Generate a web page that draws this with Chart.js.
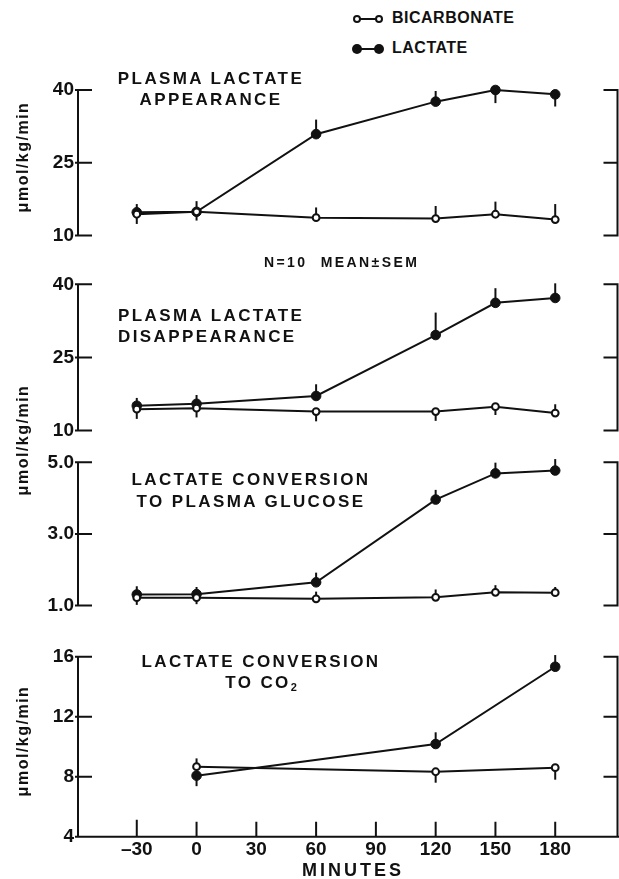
<!DOCTYPE html>
<html>
<head>
<meta charset="utf-8">
<script src="https://cdn.jsdelivr.net/npm/chart.js@4.4.1/dist/chart.umd.min.js"></script>
<style>
    body { margin: 0; background: #fff; }
    #page { position: relative; width: 619px; height: 879px; overflow: hidden; background: #fff;
        font-family: "Liberation Sans", Arial, sans-serif; font-weight: bold; color: #111; }
    #page canvas { position: absolute; left: 0; }
    .txt { position: absolute; white-space: nowrap; }
    .ttl { font-size: 17px; letter-spacing: 2.4px; line-height: 21px; }
    .ylab { position: absolute; font-size: 16px; letter-spacing: 1.5px; transform: translate(-50%, -50%) rotate(-90deg); white-space: nowrap; }
    .leg { position: absolute; left: 352px; width: 32px; height: 10px; }
    .leg .ln { position: absolute; left: 4px; right: 4px; top: 4px; height: 2px; background: #111; }
    .leg .dot { position: absolute; top: 0; width: 10px; height: 10px; border-radius: 50%; box-sizing: border-box; }
</style>
</head>
<body>
<div id="page">
    <!-- legend -->
    <div class="leg" style="top:14px">
        <div class="ln"></div>
        <div class="dot" style="left:1px;top:1px;width:8px;height:8px;border:2px solid #111;background:#fff"></div>
        <div class="dot" style="right:1px;top:1px;width:8px;height:8px;border:2px solid #111;background:#fff"></div>
    </div>
    <div class="txt" style="left:392px;top:9px;font-size:16px;letter-spacing:0.5px">BICARBONATE</div>
    <div class="leg" style="top:44px">
        <div class="ln"></div>
        <div class="dot" style="left:0;background:#111"></div>
        <div class="dot" style="right:0;background:#111"></div>
    </div>
    <div class="txt" style="left:392px;top:39px;font-size:16px;letter-spacing:0.5px">LACTATE</div>

    <canvas id="chart_1" width="619" height="190" style="top:60px"></canvas>
    <canvas id="chart_2" width="619" height="185" style="top:260px"></canvas>
    <canvas id="chart_3" width="619" height="175" style="top:445px"></canvas>
    <canvas id="chart_4" width="619" height="249" style="top:630px"></canvas>

    <!-- panel titles -->
    <div class="txt ttl" style="left:110px;top:68px;width:202px;text-align:center">PLASMA LACTATE<br>APPEARANCE</div>
    <div class="txt ttl" style="left:118px;top:305px">PLASMA LACTATE<br>DISAPPEARANCE</div>
    <div class="txt ttl" style="left:120px;top:469px;width:262px;text-align:center;line-height:22px">LACTATE CONVERSION<br>TO PLASMA GLUCOSE</div>
    <div class="txt ttl" style="left:130px;top:651px;width:262px;text-align:center">LACTATE CONVERSION<br>TO CO<sub style="font-size:11px;vertical-align:-3px;letter-spacing:0">2</sub></div>

    <div class="txt" style="left:264px;top:254px;font-size:14px;letter-spacing:2.4px;word-spacing:7px">N=10 MEAN±SEM</div>

    <div class="ylab" style="left:23px;top:157px">μmol/kg/min</div>
    <div class="ylab" style="left:23px;top:440px">μmol/kg/min</div>
    <div class="ylab" style="left:23px;top:741px">μmol/kg/min</div>

    <div class="txt" style="left:302px;top:860px;font-size:18px;letter-spacing:3px;line-height:20px">MINUTES</div>
</div>
<script>
// time points (minutes)
var minutes = [-30, 0, 60, 120, 150, 180]
var co2Minutes = [0, 120, 180]
var xTickValues = [-30, 0, 30, 60, 90, 120, 150, 180]

// plasma lactate appearance
var appearTicks = [10, 25, 40]
var appearLactate = [14.8, 14.9, 30.9, 37.6, 40.0, 39.1]
var appearLactateSem = [1.7, 2.2, 3.0, 2.2, -2.7, -2.5]
var appearBicarb = [14.4, 14.9, 13.7, 13.5, 14.4, 13.3]
var appearBicarbSem = [-2.0, -1.8, 2.1, 2.6, 2.6, 3.2]

// plasma lactate disappearance
var disTicks = [10, 25, 40]
var disLactate = [15.1, 15.5, 17.1, 29.6, 36.2, 37.2]
var disLactateSem = [1.6, 1.8, 2.4, 4.6, 3.0, 3.0]
var disBicarb = [14.4, 14.6, 13.9, 13.9, 14.9, 13.6]
var disBicarbSem = [-2.0, -1.9, -2.0, -1.9, -1.7, 1.8]

// lactate conversion to plasma glucose
var glucTicks = [1.0, 3.0, 5.0]
var glucLactate = [1.31, 1.32, 1.65, 3.96, 4.69, 4.77]
var glucLactateSem = [0.23, 0.2, 0.27, 0.27, 0.3, 0.32]
var glucBicarb = [1.22, 1.22, 1.19, 1.23, 1.37, 1.36]
var glucBicarbSem = [-0.2, -0.18, 0.2, 0.22, 0.2, 0.16]

// lactate conversion to CO2
var co2Ticks = [4, 8, 12, 16]
var co2Lactate = [8.07, 10.18, 15.33]
var co2LactateSem = [-0.7, 0.78, 0.78]
var co2Bicarb = [8.67, 8.33, 8.6]
var co2BicarbSem = [0.55, -0.73, -0.8]

var INK = '#111'
var FONT = "'Liberation Sans', Arial, sans-serif"

function toPoints(xs, ys) {
    return xs.map(function (x, i) { return { x: x, y: ys[i] } })
}

// vertical SEM bars, one direction only like the original
var semBars = {
    id: 'semBars',
    beforeDatasetsDraw: function (chart) {
        var ctx = chart.ctx
        var y = chart.scales.y
        ctx.save()
        ctx.strokeStyle = INK
        ctx.lineWidth = 2
        chart.data.datasets.forEach(function (ds, i) {
            var meta = chart.getDatasetMeta(i)
            ds.data.forEach(function (p, j) {
                var el = meta.data[j]
                var y2 = y.getPixelForValue(p.y + ds.sem[j])
                ctx.beginPath()
                ctx.moveTo(el.x, el.y)
                ctx.lineTo(el.x, y2)
                ctx.stroke()
            })
        })
        ctx.restore()
    }
}

// bracket axes with ticks pointing inwards
var frame = {
    id: 'frame',
    beforeDatasetsDraw: function (chart, args, opts) {
        var ctx = chart.ctx
        var a = chart.chartArea
        var y = chart.scales.y
        var x = chart.scales.x
        var ticks = opts.ticks
        var yTop = y.getPixelForValue(ticks[ticks.length - 1])
        var yBot = y.getPixelForValue(ticks[0])
        var L = a.left + 1
        var R = chart.width - 1.5
        ctx.save()
        ctx.strokeStyle = INK
        ctx.lineWidth = 2
        ctx.beginPath()
        ctx.moveTo(L, yTop - 1)
        ctx.lineTo(L, yBot + 1)
        ctx.moveTo(R, yTop - 1)
        ctx.lineTo(R, yBot + 1)
        ticks.forEach(function (t) {
            var py = y.getPixelForValue(t)
            ctx.moveTo(L - 3, py)
            ctx.lineTo(L + 14, py)
            ctx.moveTo(R - 14, py)
            ctx.lineTo(R + 1, py)
        })
        if (opts.bottom) {
            ctx.moveTo(L, yBot)
            ctx.lineTo(chart.width, yBot)
            xTickValues.forEach(function (t) {
                var px = x.getPixelForValue(t)
                ctx.moveTo(px, yBot)
                ctx.lineTo(px, yBot - (t === -30 ? 17 : 15))
            })
        }
        ctx.stroke()
        ctx.restore()
    }
}

function makeChart(id, xs, bic, bicSem, lac, lacSem, yTicks, pad, bottom, decimals) {
    var tickFont = { family: FONT, size: 19, weight: 'bold' }
    return new Chart(document.getElementById(id), {
        type: 'line',
        data: {
            datasets: [
                {
                    label: 'BICARBONATE', data: toPoints(xs, bic), sem: bicSem,
                    borderColor: INK, borderWidth: 2, pointRadius: 3.4, pointBorderWidth: 2,
                    pointBackgroundColor: '#fff', pointBorderColor: INK, clip: false
                },
                {
                    label: 'LACTATE', data: toPoints(xs, lac), sem: lacSem,
                    borderColor: INK, borderWidth: 2, pointRadius: 4.8, pointBorderWidth: 1,
                    pointBackgroundColor: INK, pointBorderColor: INK, clip: false
                }
            ]
        },
        options: {
            responsive: false,
            animation: false,
            devicePixelRatio: 1,
            layout: { padding: { top: pad[0], bottom: bottom ? 0 : pad[1], left: 0, right: 0 } },
            plugins: {
                legend: { display: false },
                tooltip: { enabled: false },
                frame: { ticks: yTicks, bottom: bottom }
            },
            scales: {
                x: {
                    type: 'linear', min: -60, max: 209,
                    display: bottom,
                    grid: { display: false, drawTicks: false },
                    border: { display: false },
                    afterBuildTicks: function (s) { s.ticks = xTickValues.map(function (v) { return { value: v } }) },
                    afterFit: function (s) { if (bottom) s.height = pad[1] },
                    ticks: { font: tickFont, color: INK, padding: 2, maxRotation: 0, autoSkip: false,
                        callback: function (v) { return v < 0 ? '\u2013' + Math.abs(v) : String(v) } }
                },
                y: {
                    min: yTicks[0], max: yTicks[yTicks.length - 1],
                    grid: { display: false, drawTicks: false },
                    border: { display: false },
                    afterBuildTicks: function (s) { s.ticks = yTicks.map(function (v) { return { value: v } }) },
                    afterFit: function (s) { s.width = 77 },
                    ticks: { font: tickFont, color: INK, padding: 3,
                        callback: function (v) { return v.toFixed(decimals) } }
                }
            }
        },
        plugins: [frame, semBars]
    })
}

var CHART_1 = makeChart('chart_1', minutes, appearBicarb, appearBicarbSem, appearLactate, appearLactateSem, appearTicks, [30, 12], false, 0)
var CHART_2 = makeChart('chart_2', minutes, disBicarb, disBicarbSem, disLactate, disLactateSem, disTicks, [24.3, 12.3], false, 0)
var CHART_3 = makeChart('chart_3', minutes, glucBicarb, glucBicarbSem, glucLactate, glucLactateSem, glucTicks, [17.3, 9], false, 1)
var CHART_4 = makeChart('chart_4', co2Minutes, co2Bicarb, co2BicarbSem, co2Lactate, co2LactateSem, co2Ticks, [26.7, 42.3], true, 0)
</script>
</body>
</html>
